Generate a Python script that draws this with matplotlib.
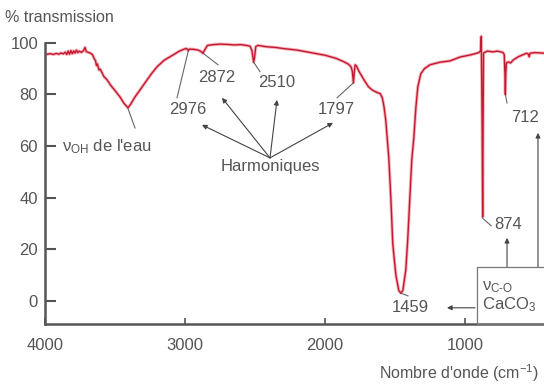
import matplotlib
matplotlib.use("Agg")
import matplotlib.pyplot as plt
from matplotlib.patches import Rectangle

plt.rcParams['font.family'] = ['Liberation Sans', 'DejaVu Sans']
plt.rcParams['mathtext.fontset'] = 'custom'
plt.rcParams['mathtext.rm'] = 'Liberation Sans'
plt.rcParams['mathtext.it'] = 'Liberation Sans:italic'

# spectre IR (nombre d'onde en cm-1, transmission en %)
nombre_onde = [3985, 3960, 3940, 3920, 3900, 3885, 3870, 3855, 3845, 3835, 3825, 3815,
               3805, 3795, 3785, 3775, 3765, 3755, 3740, 3725, 3714, 3705, 3690, 3675,
               3660, 3650, 3640, 3632, 3625, 3615, 3605, 3593, 3580, 3557, 3530, 3500,
               3464, 3435, 3407, 3385, 3360, 3321, 3280, 3240, 3200, 3150, 3086, 3040,
               2995, 2984, 2976, 2968, 2940, 2905, 2885, 2872, 2860, 2840, 2800, 2750,
               2700, 2650, 2600, 2560, 2535, 2522, 2510, 2503, 2495, 2480, 2420, 2350,
               2300, 2200, 2100, 2000, 1922, 1870, 1835, 1815, 1805, 1797, 1792, 1785,
               1775, 1758, 1720, 1690, 1665, 1645, 1630, 1605, 1590, 1578, 1566, 1544,
               1530, 1516, 1494, 1473, 1459, 1444, 1423, 1409, 1394, 1380, 1366, 1351,
               1337, 1316, 1290, 1250, 1179, 1107, 1036, 964, 914, 900, 888, 884, 878,
               874, 871, 868, 860, 840, 800, 770, 730, 720, 715, 712, 709, 705, 690,
               675, 655, 620, 560, 548, 542, 535, 500, 436]
transmission = [95.6, 95.8, 95.5, 95.9, 95.6, 96.1, 95.7, 96.4, 95.5, 96.8, 95.6, 97.0,
                95.8, 96.9, 96.0, 97.2, 96.2, 96.8, 96.3, 97.0, 98.2, 96.6, 96.3, 96.0,
                95.4, 94.0, 93.2, 91.2, 91.8, 89.5, 89.8, 88.5, 87.0, 85.7, 83.5, 81.5,
                79.0, 76.5, 74.8, 76.5, 78.8, 81.8, 85.0, 88.0, 90.7, 93.2, 95.3, 96.8,
                97.8, 97.6, 97.0, 97.6, 97.5, 97.2, 96.6, 96.0, 97.2, 99.0, 99.3, 99.5,
                99.4, 99.2, 99.3, 99.0, 98.7, 97.0, 92.5, 94.5, 98.5, 99.0, 98.5, 98.2,
                97.8, 97.2, 96.2, 95.2, 94.0, 92.8, 91.8, 90.8, 89.0, 84.5, 88.0, 91.5,
                91.0, 89.0, 85.5, 83.0, 81.8, 81.2, 80.8, 80.3, 78.5, 75.0, 70.0, 55.0,
                40.0, 22.0, 10.0, 4.0, 3.0, 4.0, 12.0, 24.0, 40.0, 55.0, 63.0, 75.0,
                83.0, 88.0, 90.0, 91.5, 92.5, 93.0, 94.5, 95.3, 96.0, 96.3, 97.0, 102.5, 70.0,
                32.5, 70.0, 96.0, 96.3, 96.8, 96.5, 96.8, 96.3, 95.5, 88.0, 80.0, 88.0, 92.2, 92.6,
                92.2, 93.4, 94.6, 96.0, 95.6, 94.6, 96.0, 96.2, 96.0]

x_ticks = [4000, 3000, 2000, 1000]
y_ticks = [0, 20, 40, 60, 80, 100]

gris = '#555555'
gris_fleche = '#444444'

fig = plt.figure(figsize=(5.44, 3.89), dpi=100)
ax = fig.add_axes([0.0827, 0.167, 0.9173, 0.756])

# halo rose + trait rouge
ax.plot(nombre_onde, transmission, color='#f4b0b9', lw=2.3, solid_joinstyle='round', zorder=2)
ax.plot(nombre_onde, transmission, color='#c4182f', lw=1.0, solid_joinstyle='round', zorder=3)

ax.set_xlim(4000, 436)
ax.set_ylim(-9, 105)
ax.set_xticks(x_ticks)
ax.set_yticks(y_ticks)
ax.spines['top'].set_visible(False)
ax.spines['right'].set_visible(False)
ax.spines['left'].set_bounds(-9, 100)
for s in ('left', 'bottom'):
    ax.spines[s].set_color(gris)
    ax.spines[s].set_linewidth(1.8)
ax.tick_params(axis='y', direction='in', length=8, width=1.5, color=gris,
               labelsize=12, labelcolor=gris, pad=5)
ax.tick_params(axis='x', direction='in', length=4, width=1.2, color=gris,
               labelsize=12, labelcolor=gris, pad=10)

fig.text(0.01, 0.955, "% transmission", fontsize=11.5, color=gris, va='center')
fig.text(0.99, 0.04, "Nombre d'onde (cm$^{-1}$)", fontsize=11.5, color=gris,
         ha='right', va='center')

txt = dict(fontsize=12, color=gris)
ligne = dict(color='#666666', lw=0.8)

# bande OH de l'eau
ax.text(3879, 58.1, r"$\mathrm{\nu}_{\rm OH}$ de l'eau", va='baseline', **txt)
ax.plot([3407, 3357], [74.5, 67], **ligne)

# harmoniques
pics = [(2976, 97.0, 3057, 78.7, 2979, 74.0),
        (2872, 96.0, 2764, 91.5, 2771, 86.4),
        (2510, 92.5, 2464, 88.8, 2343, 84.5),
        (1797, 84.5, 1914, 78.7, 1921, 74.0)]
for x0, y0, x1, y1, xt, yt in pics:
    ax.plot([x0, x1], [y0, y1], **ligne)
    ax.text(xt, yt, str(x0), ha='center', va='center', **txt)

ax.text(2393, 51.9, "Harmoniques", ha='center', va='center', **txt)
fleche = dict(arrowstyle='-|>', color=gris_fleche, lw=0.8, mutation_scale=7,
              shrinkA=0, shrinkB=0)
for xb, yb in [(2879, 68.2), (2736, 78.7), (2343, 77.9), (1943, 69.0)]:
    ax.annotate("", xy=(xb, yb), xytext=(2393, 55.4), arrowprops=fleche)

# bandes du carbonate
ax.plot([874, 814], [32, 29.1], **ligne)
ax.text(693, 29.5, "874", ha='center', va='center', **txt)
ax.plot([712, 700], [80, 76.7], **ligne)
ax.text(571, 70.9, "712", ha='center', va='center', **txt)
ax.plot([1459, 1407], [3, 1.9], **ligne)
ax.text(1393, -2.7, "1459", ha='center', va='center', **txt)

ax.add_patch(Rectangle((380, -9), 534, 22.2, fill=False, edgecolor='#777777',
                       lw=0.9, clip_on=False, zorder=4))
ax.text(878, 5.4, r"$\mathrm{\nu}_{\text{C-O}}$", va='center', **txt)
ax.text(878, -1.6, r"CaCO$_3$", va='center', **txt)

ax.annotate("", xy=(1129, -2.7), xytext=(929, -2.7), arrowprops=fleche)
ax.annotate("", xy=(700, 24.4), xytext=(700, 13.2), arrowprops=fleche)
ax.annotate("", xy=(479, 65.1), xytext=(479, 13.2), arrowprops=fleche,
            annotation_clip=False)

fig.savefig("out.png", dpi=100)
